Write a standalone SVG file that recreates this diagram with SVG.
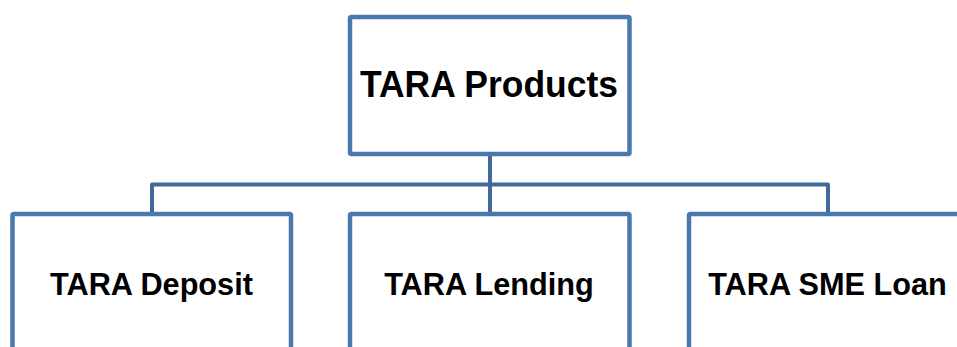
<svg xmlns="http://www.w3.org/2000/svg" width="957" height="347" viewBox="0 0 957 347">
<style>
.box{fill:#ffffff;stroke:#4A78AE;stroke-width:4.5;stroke-linejoin:round}
.conn{fill:none;stroke:#41699C;stroke-width:4;stroke-linejoin:round}
.lbl{font-family:"Liberation Sans",Arial,sans-serif;font-weight:bold;fill:#000;text-anchor:middle}
</style>
<rect width="957" height="347" fill="#ffffff"/>
<g id="connectors">
<path class="conn" d="M490 156 V184.5"/>
<path class="conn" d="M152 212 V184.5 H828 V212"/>
<path class="conn" d="M490 184.5 V212"/>
</g>
<g id="node-products">
<rect class="box" x="350" y="17" width="279.5" height="137" rx="1.5"/>
<text class="lbl" x="489" y="97" font-size="37" textLength="258" lengthAdjust="spacingAndGlyphs">TARA Products</text>
</g>
<g id="node-deposit">
<rect class="box" x="12.5" y="214" width="278.5" height="150" rx="1.5"/>
<text class="lbl" x="151.5" y="294.5" font-size="30.7">TARA Deposit</text>
</g>
<g id="node-lending">
<rect class="box" x="350" y="214" width="279.5" height="150" rx="1.5"/>
<text class="lbl" x="489" y="294.5" font-size="30.7">TARA Lending</text>
</g>
<g id="node-sme">
<rect class="box" x="689" y="214" width="279.5" height="150" rx="1.5"/>
<text class="lbl" x="827.5" y="294.5" font-size="30.7">TARA SME Loan</text>
</g>
</svg>
